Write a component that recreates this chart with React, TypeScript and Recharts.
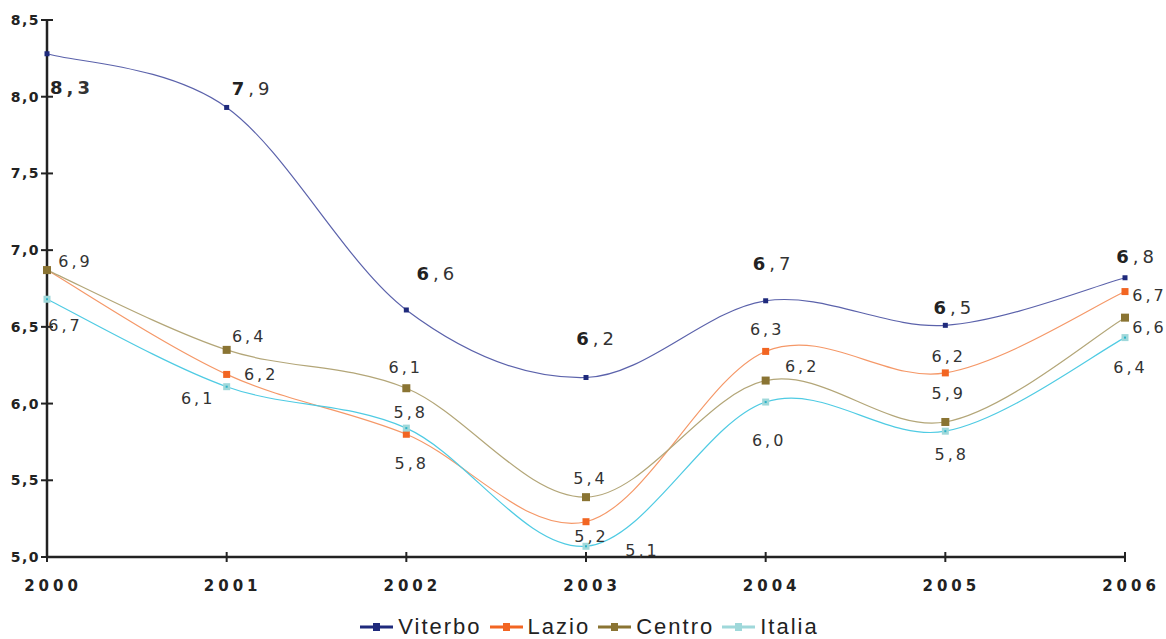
import { LineChart, Line, XAxis, YAxis, Legend, LabelList } from "recharts";

const years = [2000, 2001, 2002, 2003, 2004, 2005, 2006];
const viterbo = [8.28, 7.93, 6.61, 6.17, 6.67, 6.51, 6.82];
const lazio = [6.87, 6.19, 5.8, 5.23, 6.34, 6.2, 6.73];
const centro = [6.87, 6.35, 6.1, 5.39, 6.15, 5.88, 6.56];
const italia = [6.68, 6.11, 5.84, 5.07, 6.01, 5.82, 6.43];

const viterboLabels = ["8,3", "7,9", "6,6", "6,2", "6,7", "6,5", "6,8"];
const lazioLabels = ["", "6,2", "5,8", "5,2", "6,3", "6,2", "6,7"];
const centroLabels = ["6,9", "6,4", "6,1", "5,4", "6,2", "5,9", "6,6"];
const italiaLabels = ["6,7", "6,1", "5,8", "5,1", "6,0", "5,8", "6,4"];

const yTicks = [5, 5.5, 6, 6.5, 7, 7.5, 8, 8.5];

const data = years.map((year, i) => ({
  year,
  viterbo: viterbo[i],
  lazio: lazio[i],
  centro: centro[i],
  italia: italia[i],
}));

// label placement relative to each point (dx, dy)
const labelOffsets: Record<string, number[][]> = {
  viterbo: [[23, 33], [24, -19], [29, -37], [9, -39], [6, -38], [7, -18], [10, -22]],
  lazio: [[0, 0], [33, 0], [4, 29], [4, 14], [0, -22], [2, -17], [23, 3]],
  centro: [[27, -9], [21, -14], [-2, -21], [3, -19], [35, -15], [2, -29], [23, 9]],
  italia: [[17, 26], [-30, 11], [3, -16], [55, 4], [2, 38], [5, 23], [4, 29]],
};

const series = [
  { key: "viterbo", name: "Viterbo", line: "#5b62ab", mark: "#1f2a7c", size: 5, labels: viterboLabels },
  { key: "lazio", name: "Lazio", line: "#f59868", mark: "#f26522", size: 7, labels: lazioLabels },
  { key: "centro", name: "Centro", line: "#b3a678", mark: "#8a7433", size: 8, labels: centroLabels },
  { key: "italia", name: "Italia", line: "#4fcbe3", mark: "#9fd8da", size: 7, labels: italiaLabels },
];

// Excel-like smoothing (Catmull-Rom through the points)
const smoothCurve = (context: any) => {
  let pts: number[][] = [];
  return {
    areaStart() {},
    areaEnd() {},
    lineStart() {
      pts = [];
    },
    point(x: number, y: number) {
      pts.push([+x, +y]);
    },
    lineEnd() {
      if (!pts.length) return;
      context.moveTo(pts[0][0], pts[0][1]);
      for (let i = 0; i < pts.length - 1; i++) {
        const p0 = pts[i - 1] || pts[i];
        const p1 = pts[i];
        const p2 = pts[i + 1];
        const p3 = pts[i + 2] || p2;
        context.bezierCurveTo(
          p1[0] + (p2[0] - p0[0]) / 6,
          p1[1] + (p2[1] - p0[1]) / 6,
          p2[0] - (p3[0] - p1[0]) / 6,
          p2[1] - (p3[1] - p1[1]) / 6,
          p2[0],
          p2[1]
        );
      }
    },
  };
};

const YTick = ({ x, y, payload }: any) => (
  <g>
    <line x1={x - 6} x2={x + 6} y1={y} y2={y} stroke="#222" strokeWidth={2} />
    <text
      x={x - 7}
      y={y + 5}
      textAnchor="end"
      fontFamily="DejaVu Sans"
      fontWeight="bold"
      fontSize={14}
      letterSpacing={1.5}
      fill="#222"
    >
      {payload.value.toFixed(1).replace(".", ",")}
    </text>
  </g>
);

const XTick = ({ x, y, payload }: any) => (
  <g>
    <line x1={x} x2={x} y1={y - 5} y2={y + 5} stroke="#222" strokeWidth={2} />
    <text
      x={x + 6}
      y={y + 34}
      textAnchor="middle"
      fontFamily="DejaVu Sans"
      fontWeight="bold"
      fontSize={15}
      letterSpacing={4}
      fill="#222"
    >
      {payload.value}
    </text>
  </g>
);

const makeLabel = (key: string, labels: string[]) => (props: any) => {
  const { x, y, index } = props;
  const text = labels[index];
  if (!text) return null;
  const [dx, dy] = labelOffsets[key][index];
  if (key === "viterbo") {
    const [first, ...rest] = text.split(",");
    return (
      <text
        x={x + dx + 2}
        y={y + dy + 7}
        textAnchor="middle"
        fontFamily="DejaVu Sans"
        fontSize={18}
        letterSpacing={4}
      >
        <tspan fontWeight="bold" fill="#222">{first}</tspan>
        <tspan fill="#333" fontWeight={index === 0 ? "bold" : "normal"}>,{rest.join("")}</tspan>
      </text>
    );
  }
  return (
    <text
      x={x + dx + 1.5}
      y={y + dy + 6}
      textAnchor="middle"
      fontFamily="DejaVu Sans"
      fontSize={16}
      letterSpacing={3}
      fill="#333"
    >
      {text}
    </text>
  );
};

const makeDot = (s: any) => (props: any) => {
  const { cx, cy, key } = props;
  const h = s.size / 2;
  return (
    <g key={key}>
      <rect x={cx - h} y={cy - h} width={s.size} height={s.size} fill={s.mark} />
      {s.key === "italia" && <rect x={cx - 1} y={cy - 1} width={2} height={2} fill="#2bb3c9" />}
    </g>
  );
};

const LegendContent = () => (
  <div
    style={{
      height: 42,
      display: "flex",
      justifyContent: "center",
      alignItems: "center",
      paddingTop: 18,
      paddingLeft: 62,
      boxSizing: "border-box",
      fontFamily: "Liberation Sans",
      fontSize: 22,
      color: "#222",
      letterSpacing: 2,
    }}
  >
    {series.map((s) => (
      <div key={s.key} style={{ display: "flex", alignItems: "center", marginRight: 8 }}>
        <svg width={33} height={10} style={{ marginRight: 5 }}>
          <line x1={0} x2={33} y1={5} y2={5} stroke={s.key === "italia" ? "#9fd8da" : s.mark} strokeWidth={3} />
          <rect x={13} y={1} width={7} height={8} fill={s.mark} />
        </svg>
        <span>{s.name}</span>
      </div>
    ))}
  </div>
);

export default function App() {
  return (
    <div style={{ position: "absolute", left: 0, top: 0, background: "#fff" }}>
      <LineChart width={1166} height={639} data={data} margin={{ top: 20, right: 41, bottom: 0, left: 0 }}>
        <XAxis
          dataKey="year"
          type="number"
          domain={[2000, 2006]}
          ticks={years}
          height={40}
          tickSize={0}
          tickMargin={0}
          axisLine={{ stroke: "#222", strokeWidth: 2.5 }}
          tickLine={false}
          tick={<XTick />}
        />
        <YAxis
          domain={[5, 8.5]}
          ticks={yTicks}
          width={47}
          tickSize={0}
          tickMargin={0}
          axisLine={{ stroke: "#222", strokeWidth: 2.5 }}
          tickLine={false}
          tick={<YTick />}
        />
        <Legend verticalAlign="bottom" content={<LegendContent />} />
        {series.map((s) => (
          <Line
            key={s.key}
            dataKey={s.key}
            name={s.name}
            type={smoothCurve as any}
            stroke={s.line}
            strokeWidth={1.2}
            dot={makeDot(s)}
            activeDot={false}
            isAnimationActive={false}
          >
            <LabelList dataKey={s.key} content={makeLabel(s.key, s.labels)} />
          </Line>
        ))}
      </LineChart>
    </div>
  );
}
